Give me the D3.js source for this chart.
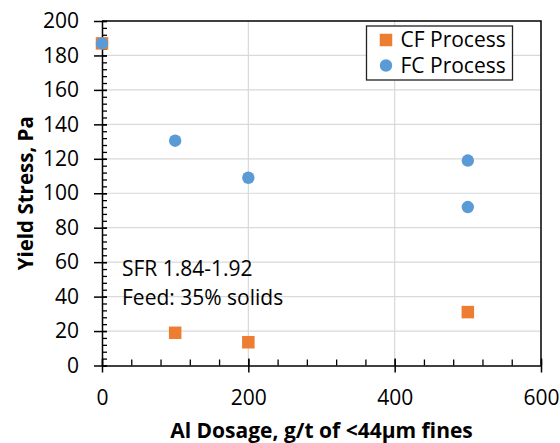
<!DOCTYPE html>
<html>
<head>
<meta charset="utf-8">
<script src="https://cdn.jsdelivr.net/npm/d3@7"></script>
<style>
  body { margin: 0; background: #fff; }
  svg { display: block; font-family: "Open Sans", "Liberation Sans", sans-serif; }
</style>
</head>
<body>
<script>
  // CF process (orange squares)
  const cfDosage = [0, 100, 200, 500];
  const cfStress = [187, 19, 13.5, 31];

  // FC process (blue circles)
  const fcDosage = [0, 100, 200, 500, 500];
  const fcStress = [187, 130.5, 109, 119, 92];

  const xTicks = [0, 200, 400, 600];
  const yTicks = [0, 20, 40, 60, 80, 100, 120, 140, 160, 180, 200];
  const seriesNames = ["CF Process", "FC Process"];
  const notes = ["SFR 1.84-1.92", "Feed: 35% solids"];

  const width = 560;
  const height = 443;
  const margin = { top: 21, right: 19, bottom: 77.5, left: 102 };

  const orange = "#ED7D31";
  const blue = "#5B9BD5";

  const x = d3.scaleLinear().domain([0, 600]).range([margin.left, width - margin.right]);
  const y = d3.scaleLinear().domain([0, 200]).range([height - margin.bottom, margin.top]);

  const svg = d3.select("body")
    .append("svg")
    .attr("width", width)
    .attr("height", height);

  // gridlines
  svg.append("g")
    .selectAll("line")
    .data(yTicks.filter(d => d > 0 && d < 200))
    .join("line")
    .attr("x1", x(0)).attr("x2", x(600))
    .attr("y1", d => y(d)).attr("y2", d => y(d))
    .attr("stroke", "#d9d9d9")
    .attr("stroke-width", 1.2);

  svg.append("g")
    .selectAll("line")
    .data(xTicks.filter(d => d > 0 && d < 600))
    .join("line")
    .attr("x1", d => x(d)).attr("x2", d => x(d))
    .attr("y1", y(0)).attr("y2", y(200))
    .attr("stroke", "#d9d9d9")
    .attr("stroke-width", 1.2);

  // top and right border
  svg.append("path")
    .attr("d", `M${x(0)},${y(200)}H${x(600)}V${y(0)}`)
    .attr("fill", "none")
    .attr("stroke", "#000")
    .attr("stroke-width", 1.5);

  // minor ticks
  svg.append("g")
    .attr("transform", `translate(0,${y(0)})`)
    .call(d3.axisBottom(x).tickValues(d3.range(0, 601, 40)).tickSize(-6).tickFormat(""))
    .call(g => g.select(".domain").remove())
    .selectAll("line").attr("stroke-width", 1.3);

  svg.append("g")
    .attr("transform", `translate(${x(0)},0)`)
    .call(d3.axisLeft(y).tickValues(d3.range(0, 201, 4)).tickSize(-5).tickFormat(""))
    .call(g => g.select(".domain").remove())
    .selectAll("line").attr("stroke-width", 1.3);

  // major axes
  const xAxis = svg.append("g")
    .attr("transform", `translate(0,${y(0)})`)
    .call(d3.axisBottom(x).tickValues(xTicks).tickSize(7).tickPadding(18).tickSizeOuter(0));
  xAxis.selectAll(".tick line").attr("y1", -7).attr("stroke-width", 1.5);
  xAxis.select(".domain").attr("stroke-width", 1.5);

  const yAxis = svg.append("g")
    .attr("transform", `translate(${x(0)},0)`)
    .call(d3.axisLeft(y).tickValues(yTicks).tickSize(8).tickPadding(15).tickSizeOuter(0));
  yAxis.selectAll(".tick line").attr("x1", 5).attr("stroke-width", 1.5);
  yAxis.select(".domain").attr("stroke-width", 1.5);

  svg.selectAll(".tick text")
    .attr("font-family", "Open Sans")
    .attr("font-size", 21)
    .attr("fill", "#000");

  // axis titles
  svg.append("text")
    .attr("x", (x(0) + x(600)) / 2)
    .attr("y", 438)
    .attr("text-anchor", "middle")
    .attr("font-size", 21)
    .attr("font-weight", "bold")
    .text("Al Dosage, g/t of <44μm fines");

  svg.append("text")
    .attr("transform", `translate(33,${(y(0) + y(200)) / 2}) rotate(-90)`)
    .attr("text-anchor", "middle")
    .attr("font-size", 20.5)
    .attr("font-weight", "bold")
    .text("Yield Stress, Pa");

  // annotation
  svg.append("g")
    .selectAll("text")
    .data(notes)
    .join("text")
    .attr("x", 122)
    .attr("y", (d, i) => 276 + i * 28.5)
    .attr("font-size", 21)
    .text(d => d);

  // points
  const sq = 12.5;
  svg.append("g")
    .selectAll("rect")
    .data(cfDosage.map((d, i) => [d, cfStress[i]]))
    .join("rect")
    .attr("x", d => x(d[0]) - sq / 2)
    .attr("y", d => y(d[1]) - sq / 2)
    .attr("width", sq)
    .attr("height", sq)
    .attr("fill", orange);

  svg.append("g")
    .selectAll("circle")
    .data(fcDosage.map((d, i) => [d, fcStress[i]]))
    .join("circle")
    .attr("cx", d => x(d[0]))
    .attr("cy", d => y(d[1]))
    .attr("r", 6.2)
    .attr("fill", blue);

  // legend
  const legend = svg.append("g");
  legend.append("rect")
    .attr("x", 366.5).attr("y", 26)
    .attr("width", 146).attr("height", 54)
    .attr("fill", "#fff")
    .attr("stroke", "#222")
    .attr("stroke-width", 1.3);

  const items = legend.selectAll("g")
    .data(seriesNames)
    .join("g")
    .attr("transform", (d, i) => `translate(386,${40 + i * 25.5})`);

  items.filter((d, i) => i === 0)
    .append("rect")
    .attr("x", -sq / 2).attr("y", -sq / 2)
    .attr("width", sq).attr("height", sq)
    .attr("fill", orange);

  items.filter((d, i) => i === 1)
    .append("circle")
    .attr("r", 6.2)
    .attr("fill", blue);

  items.append("text")
    .attr("x", 14.5)
    .attr("y", 7)
    .attr("font-size", 21)
    .text(d => d);
</script>
</body>
</html>
